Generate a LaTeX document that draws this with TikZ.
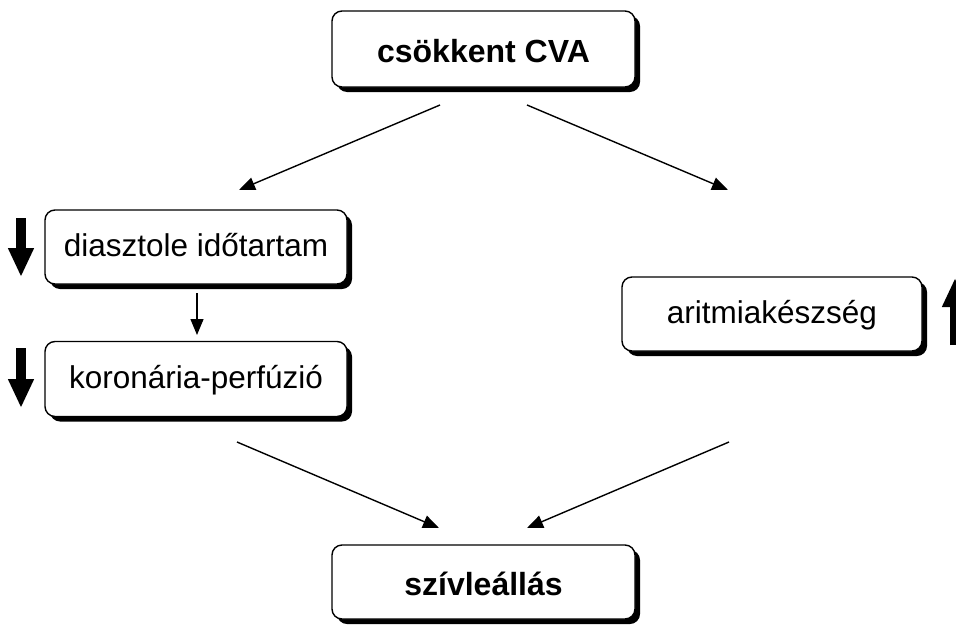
\documentclass[tikz,border=0pt]{standalone}
\usepackage{fontspec}
\setmainfont{Liberation Sans}
\usetikzlibrary{arrows.meta,shadows}
\tikzset{
  card/.style={draw, line width=1.4pt, fill=white, rounded corners=10pt,
    outer sep=0pt, inner sep=0pt, text height=25pt, text depth=7pt,
    font=\fontsize{31.5}{37}\selectfont,
    drop shadow={shadow xshift=5pt, shadow yshift=-5pt, fill=black, opacity=1}},
  headcard/.style={card, text height=34pt, font=\fontsize{32}{38}\selectfont\bfseries},
  link/.style={line width=1.4pt, -{Triangle[length=16pt,width=13pt]}},
  trend/.style={line width=9.5pt, -{Triangle[length=29pt,width=24pt]}},
}
\begin{document}
\begin{tikzpicture}[x=1pt,y=-1pt]
\useasboundingbox (0,0) rectangle (956,624);

% boxes
\node[headcard, minimum width=303pt, minimum height=76pt] (cva) at (483.5,49) {csökkent CVA};
\node[card, minimum width=302pt, minimum height=74pt] (diast) at (196,247) {diasztole időtartam};
\node[card, minimum width=302pt, minimum height=75pt] (koro) at (196,379) {koronária-perfúzió};
\node[card, minimum width=300pt, minimum height=74pt] (arit) at (772,314) {aritmiakészség};
\node[headcard, minimum width=303pt, minimum height=74pt] (stop) at (483.5,582) {szívleállás};

% free ends of the connectors
\coordinate (cvaL) at (440,105);
\coordinate (diastIn) at (239,190);
\coordinate (cvaR) at (527,105);
\coordinate (aritIn) at (728,190);
\coordinate (diastOut) at (197,293);
\coordinate (koroIn) at (197,335);
\coordinate (koroOut) at (237,442);
\coordinate (stopL) at (439,528);
\coordinate (aritOut) at (729,442);
\coordinate (stopR) at (527,528);

\draw[link] (cvaL) -- (diastIn);
\draw[link] (cvaR) -- (aritIn);
\draw[link] (diastOut) -- (koroIn);
\draw[link] (koroOut) -- (stopL);
\draw[link] (aritOut) -- (stopR);

% trend markers
\coordinate (d1a) at (21,218);
\coordinate (d1b) at (21,277);
\coordinate (d2a) at (21,348);
\coordinate (d2b) at (21,408);
\coordinate (u1a) at (955,345);
\coordinate (u1b) at (955,278);
\draw[trend] (d1a) -- (d1b);
\draw[trend] (d2a) -- (d2b);
\draw[trend] (u1a) -- (u1b);
\end{tikzpicture}
\end{document}
